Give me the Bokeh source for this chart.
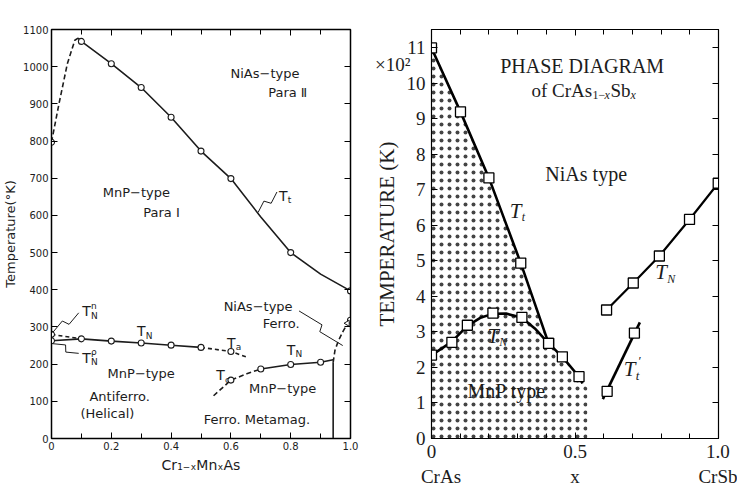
import math
from bokeh.plotting import figure
from bokeh.layouts import row
from bokeh.models import Label, LinearAxis, Range1d, FixedTicker, AllLabels
from bokeh.embed import file_html
from bokeh.resources import INLINE

# ---------------- data: left panel, Cr(1-x)Mn(x)As ----------------
L_tt_pts_x = [0, 0.1, 0.2, 0.3, 0.4, 0.5, 0.6, 0.8, 1.0]
L_tt_pts_y = [797, 1068, 1008, 944, 864, 773, 699, 500, 397]
L_tt_dash_x = [0, 0.025, 0.053, 0.078, 0.089]
L_tt_dash_y = [797, 900, 1008, 1071, 1077]
L_tt_line_x = [0.089, 0.1, 0.2, 0.3, 0.4, 0.5, 0.6, 0.7, 0.8, 0.9, 1.0]
L_tt_line_y = [1077, 1068, 1008, 944, 864, 773, 699, 596, 500, 442, 397]

L_tn_pts_x = [0, 0, 0.1, 0.2, 0.3, 0.4, 0.5, 0.6]
L_tn_pts_y = [280, 263, 268, 262, 257, 251, 245, 234]
L_tnn_dash_x = [0, 0.1]
L_tnn_dash_y = [280, 268]
L_tn_line_x = [0, 0.1, 0.2, 0.3, 0.4, 0.5]
L_tn_line_y = [263, 268, 262, 257, 251, 245]
L_ta_dash_x = [0.5, 0.6, 0.65]
L_ta_dash_y = [245, 234, 220]

L_tn2_pts_x = [0.6, 0.7, 0.8, 0.9]
L_tn2_pts_y = [157, 187, 199, 205]
L_tc_dash_x = [0.542, 0.6, 0.653, 0.7]
L_tc_dash_y = [115, 157, 174, 187]
L_tn2_line_x = [0.7, 0.8, 0.9, 0.942]
L_tn2_line_y = [187, 199, 205, 212]

L_bound_x = [0.942, 0.942]
L_bound_y = [0, 205]
L_bound_dash_x = [0.942, 0.948, 0.959, 0.975, 0.987, 1.0]
L_bound_dash_y = [205, 237, 262, 288, 305, 318]
L_end_pt_x = [1.0]
L_end_pt_y = [318]
L_tri_x = [0.99]
L_tri_y = [310]

L_xticks = [0, 0.2, 0.4, 0.6, 0.8, 1.0]
L_xminor = [0.1, 0.3, 0.5, 0.7, 0.9]
L_yticks = [0, 100, 200, 300, 400, 500, 600, 700, 800, 900, 1000, 1100]

# ---------------- data: right panel, CrAs(1-x)Sb(x) ----------------
R_tt_x = [0, 0.101, 0.2, 0.311, 0.408]
R_tt_y = [11.0, 9.2, 7.34, 4.94, 2.68]
R_tn_pts_x = [0, 0.071, 0.125, 0.214, 0.315, 0.408, 0.456, 0.514]
R_tn_pts_y = [2.35, 2.71, 3.19, 3.53, 3.41, 2.68, 2.30, 1.74]
R_tn_line_x = [0, 0.035, 0.071, 0.125, 0.17, 0.214, 0.26, 0.315, 0.36, 0.408, 0.456, 0.514, 0.526]
R_tn_line_y = [2.35, 2.53, 2.73, 3.17, 3.40, 3.51, 3.52, 3.40, 3.10, 2.68, 2.30, 1.74, 1.55]
R_tn2_x = [0.61, 0.703, 0.794, 0.899, 0.999]
R_tn2_y = [3.62, 4.38, 5.14, 6.17, 7.19]
R_ttp_line_x = [0.597, 0.726]
R_ttp_line_y = [1.11, 3.27]
R_ttp_pts_x = [0.612, 0.707]
R_ttp_pts_y = [1.33, 2.97]
R_shade_x = [0, 0, 0.101, 0.2, 0.311, 0.408, 0.456, 0.514, 0.526, 0.543, 0.543]
R_shade_y = [0, 11.0, 9.2, 7.34, 4.94, 2.68, 2.30, 1.74, 1.55, 1.42, 0]

R_yticks = list(range(0, 12))
R_xticks = [0, 0.5, 1.0]
R_xlabels = {0: "0\n\u00a0\u00a0\u00a0\u00a0CrAs", 0.5: "0.5\nx", 1: "1.0\nCrSb"}
R_xminor = [0.1, 0.2, 0.3, 0.4, 0.6, 0.7, 0.8, 0.9]
R_scale_tick = {10.54: "\u00d710\u00b2"}

SANS = "DejaVu Sans"
SERIF = "Liberation Serif"
INK = "#1c1c1c"


def frame_ticks(p, xt, xm, yt, ym, font, fs, standoff, xover):
    p.xaxis.ticker = FixedTicker(ticks=xt, minor_ticks=xm)
    p.yaxis.ticker = FixedTicker(ticks=yt, minor_ticks=ym)
    p.xaxis.major_label_overrides = xover
    for ax in list(p.xaxis) + list(p.yaxis):
        ax.major_tick_in = 6
        ax.major_tick_out = 0
        ax.minor_tick_in = 5
        ax.minor_tick_out = 0
        ax.axis_line_color = "black"
        ax.major_tick_line_color = "black"
        ax.minor_tick_line_color = "black"
        ax.major_label_text_font = font
        ax.major_label_text_font_size = f"{fs}px"
        ax.major_label_text_color = INK
        ax.major_label_standoff = standoff
        ax.major_label_policy = AllLabels()
    for loc, t, m in (("above", xt, xm), ("right", yt, ym)):
        ax = LinearAxis(ticker=FixedTicker(ticks=t, minor_ticks=m), major_tick_in=6, major_tick_out=0,
                        minor_tick_in=5, minor_tick_out=0,
                        major_label_text_font_size="0px",
                        major_label_standoff=0, axis_line_color="black")
        p.add_layout(ax, loc)
    p.xgrid.visible = False
    p.ygrid.visible = False
    p.outline_line_color = "black"


def text(p, s, x, y, font, fs, align="center", style="normal", **kw):
    p.add_layout(Label(x=x, y=y, text=s, text_font=font, text_font_size=f"{fs}px",
                       text_font_style=style, text_color=INK, text_align=align,
                       text_baseline="middle", **kw))


def tlab(p, x, y, sub, sup=None, font=SANS, fs=14, sfs=9, style="normal", tw=None, sup_dx=0, **kw):
    text(p, "T", x, y, font, fs, align="left", style=style, **kw)
    w = tw if tw is not None else 0.62 * fs
    if sub:
        text(p, sub, x, y, font, sfs, align="left", style=style, x_offset=w, y_offset=-0.33 * fs, **kw)
    if sup:
        text(p, sup, x, y, font, sfs, align="left", style=style, x_offset=w + sup_dx, y_offset=0.38 * fs)


def zigzag(p, s, e, sx, sy, h=3.5, a=1.5, width=1.0):
    X0, Y0, X1, Y1 = s[0] * sx, s[1] * sy, e[0] * sx, e[1] * sy
    dx, dy = X1 - X0, Y1 - Y0
    L = math.hypot(dx, dy)
    ux, uy = dx / L, dy / L
    nx, ny = -uy, ux
    mx, my = (X0 + X1) / 2, (Y0 + Y1) / 2
    xs = [X0, mx - a * ux + h * nx, mx + a * ux - h * nx, X1]
    ys = [Y0, my - a * uy + h * ny, my + a * uy - h * ny, Y1]
    p.line([v / sx for v in xs], [v / sy for v in ys], line_color=INK, line_width=width)


# ======================= LEFT PANEL =======================
p1 = figure(width=365, height=490, x_range=Range1d(0, 1.0), y_range=Range1d(0, 1100),
            output_backend="svg", toolbar_location=None,
            min_border_left=50, min_border_right=15, min_border_top=13, min_border_bottom=41)
frame_ticks(p1, L_xticks, L_xminor, L_yticks, [], SANS, 10, 3, {1: "1.0"})
p1.outline_line_width = 1.5
ax_b, ax_l = p1.below[0], p1.left[0]
ax_l.axis_label = "Temperature(°K)"
ax_b.axis_label = "Cr\u2081\u208b\u2093Mn\u2093As"
for ax in (ax_b, ax_l):
    ax.axis_label_text_font = SANS
    ax.axis_label_text_font_style = "normal"
    ax.axis_label_text_color = INK
ax_l.axis_label_text_font_size = "13px"
ax_b.axis_label_text_font_size = "14px"
ax_l.axis_label_standoff = 2
ax_b.axis_label_standoff = 4

LW = 1.6
p1.line(L_tt_dash_x, L_tt_dash_y, line_color=INK, line_width=LW, line_dash="5 3")
p1.line(L_tt_line_x, L_tt_line_y, line_color=INK, line_width=LW)
p1.line(L_tnn_dash_x, L_tnn_dash_y, line_color=INK, line_width=LW, line_dash="4 3")
p1.line(L_tn_line_x, L_tn_line_y, line_color=INK, line_width=LW)
p1.line(L_ta_dash_x, L_ta_dash_y, line_color=INK, line_width=LW, line_dash="4 3")
p1.line(L_tc_dash_x, L_tc_dash_y, line_color=INK, line_width=LW, line_dash="5 3")
p1.line(L_tn2_line_x, L_tn2_line_y, line_color=INK, line_width=LW)
p1.line(L_bound_x, L_bound_y, line_color=INK, line_width=LW)
p1.line(L_bound_dash_x, L_bound_dash_y, line_color=INK, line_width=LW, line_dash="5 3")
for xs, ys in ((L_tt_pts_x, L_tt_pts_y), (L_tn_pts_x, L_tn_pts_y),
               (L_tn2_pts_x, L_tn2_pts_y), (L_end_pt_x, L_end_pt_y)):
    p1.scatter(xs, ys, marker="circle", size=6, fill_color="white", line_color=INK, line_width=1.1)
p1.scatter(L_tri_x, L_tri_y, marker="triangle", angle=math.pi / 2, size=6,
           fill_color="white", line_color=INK, line_width=1)

FS = 13
text(p1, "NiAs\u2212type", 0.714, 981, SANS, FS)
text(p1, "Para \u2161", 0.790, 931, SANS, FS)
text(p1, "MnP\u2212type", 0.284, 661, SANS, FS)
text(p1, "Para \u2160", 0.368, 608, SANS, FS)
text(p1, "MnP\u2212type", 0.300, 176, SANS, FS)
text(p1, "Antiferro.", 0.228, 113, SANS, FS)
text(p1, "(Helical)", 0.187, 66, SANS, FS)
text(p1, "NiAs\u2212type", 0.691, 355, SANS, FS)
text(p1, "Ferro.", 0.768, 309, SANS, FS)
text(p1, "MnP\u2212type", 0.773, 134, SANS, FS)
text(p1, "Ferro.  Metamag.", 0.694, 52, SANS, FS)

tlab(p1, 0.761, 653, "t")
tlab(p1, 0.103, 343, "N", "n")
tlab(p1, 0.103, 217, "N", "\u03c1")
tlab(p1, 0.286, 288, "N")
tlab(p1, 0.587, 258, "a")
tlab(p1, 0.787, 239, "N")
tlab(p1, 0.551, 170, "c")

SX1, SY1 = 300.0, 0.3964
zigzag(p1, (0.091, 338), (0.004, 285), SX1, SY1)
zigzag(p1, (0.091, 229), (0.004, 255), SX1, SY1)
zigzag(p1, (0.754, 663), (0.691, 608), SX1, SY1)
zigzag(p1, (0.828, 343), (0.974, 250), SX1, SY1)

# ======================= RIGHT PANEL =======================
p2 = figure(width=372, height=490, x_range=Range1d(0, 1.0), y_range=Range1d(0, 11.52),
            output_backend="svg", toolbar_location=None,
            min_border_left=66, min_border_right=19, min_border_top=29, min_border_bottom=52)
frame_ticks(p2, R_xticks, R_xminor, R_yticks, [], SERIF, 19, 6, R_xlabels)
p2.below[0].major_label_standoff = 2
p2.outline_line_width = 1.2

# outer left axis: "x10^2" scale note + axis title
ax_scale = LinearAxis(ticker=FixedTicker(ticks=list(R_scale_tick.keys()), minor_ticks=[]),
                      major_label_overrides=R_scale_tick, major_tick_in=0, major_tick_out=0,
                      minor_tick_in=0, minor_tick_out=0, axis_line_color=None,
                      major_label_standoff=-7, major_label_text_font=SERIF,
                      major_label_text_font_size="19px", major_label_text_color=INK,
                      axis_label="TEMPERATURE (K)", axis_label_text_font=SERIF,
                      axis_label_text_font_style="normal", axis_label_text_font_size="21px",
                      axis_label_text_color=INK, axis_label_standoff=-27)
p2.add_layout(ax_scale, "left")

p2.patch(R_shade_x, R_shade_y, fill_alpha=0, line_color=None,
         hatch_pattern="dot", hatch_color="#444444", hatch_scale=8, hatch_weight=0.7)

RW = 2.6
p2.line(R_tt_x, R_tt_y, line_color="black", line_width=RW)
p2.line(R_tn_line_x, R_tn_line_y, line_color="black", line_width=RW)
p2.line(R_tn2_x, R_tn2_y, line_color="black", line_width=RW * 0.85)
p2.line(R_ttp_line_x, R_ttp_line_y, line_color="black", line_width=RW)
for xs, ys in ((R_tt_x, R_tt_y), (R_tn_pts_x, R_tn_pts_y), (R_tn2_x, R_tn2_y),
               (R_ttp_pts_x, R_ttp_pts_y)):
    p2.scatter(xs, ys, marker="square", size=10, fill_color="white",
               line_color="black", line_width=1.3)

text(p2, "PHASE DIAGRAM", 0.525, 10.49, SERIF, 20)
# "of CrAs1-xSbx" composed from pieces
ox, oy = 0.348, 9.81
text(p2, "of CrAs", ox, oy, SERIF, 19, align="left")
text(p2, "1\u2212", ox, oy, SERIF, 12, align="left", x_offset=61, y_offset=-5)
text(p2, "x", ox, oy, SERIF, 12, align="left", style="italic", x_offset=73, y_offset=-5)
text(p2, "Sb", ox, oy, SERIF, 19, align="left", x_offset=79)
text(p2, "x", ox, oy, SERIF, 12, align="left", style="italic", x_offset=99, y_offset=-5)

text(p2, "NiAs type", 0.539, 7.44, SERIF, 20)
text(p2, "MnP type", 0.262, 1.33, SERIF, 20)

tlab(p2, 0.273, 6.42, "t", font=SERIF, fs=21, sfs=12, style="italic", tw=12)
tlab(p2, 0.78, 4.68, "N", font=SERIF, fs=21, sfs=12, style="italic", tw=12)
tlab(p2, 0.194, 2.90, "N", font=SERIF, fs=21, sfs=12, style="italic", tw=12)
tlab(p2, 0.67, 1.96, "t", "\u2032", font=SERIF, fs=21, sfs=13, style="italic", tw=12, sup_dx=2)

layout = row(p1, p2)
open("out.html", "w").write(file_html(layout, INLINE))
